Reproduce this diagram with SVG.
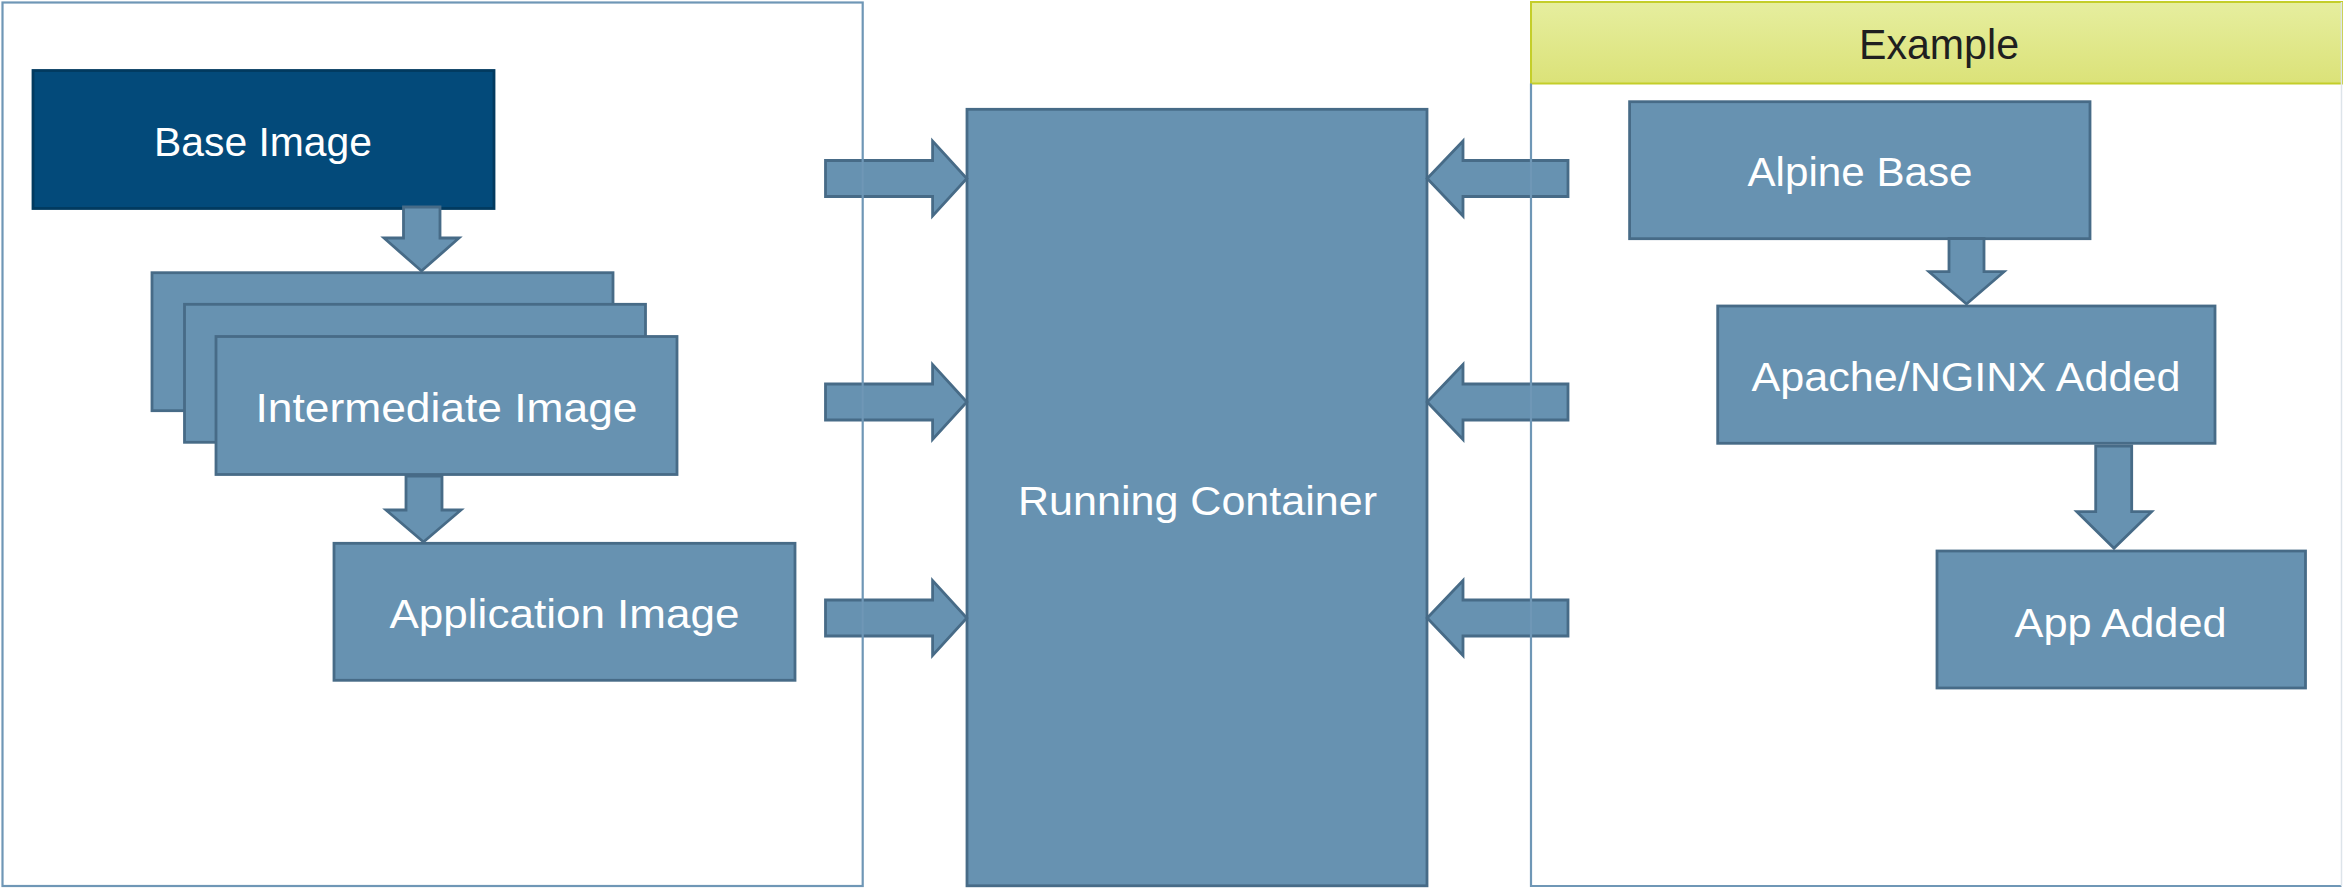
<svg xmlns="http://www.w3.org/2000/svg" width="2343" height="888" viewBox="0 0 2343 888">
  <defs>
    <linearGradient id="headerFill" x1="0" y1="0" x2="0" y2="1">
      <stop offset="0" stop-color="#e6ee9f"/>
      <stop offset="1" stop-color="#dbe278"/>
    </linearGradient>
    <style>
      .node { fill: #6792b1; stroke: #476b87; stroke-width: 2.8; }
      .node-dark { fill: #034a7a; stroke: #023a5f; stroke-width: 2.8; }
      .arrow { fill: #6792b1; stroke: #476b87; stroke-width: 2.8; stroke-linejoin: miter; }
      .frame { fill: none; stroke: #6f97b6; stroke-width: 2.2; }
      .label { font-family: "Liberation Sans", Arial, sans-serif; font-size: 41.5px; fill: #ffffff; text-anchor: middle; }
      .title { font-family: "Liberation Sans", Arial, sans-serif; font-size: 42px; fill: #1f1f1f; text-anchor: middle; }
    </style>
  </defs>

  <rect width="2343" height="888" fill="#ffffff"/>

  <!-- header band of the example panel -->
  <g id="example-header">
    <rect x="1531" y="2" width="812" height="81.5" fill="url(#headerFill)" stroke="#c4ce2a" stroke-width="2"/>
    <text class="title" x="1939" y="59.3" textLength="160" lengthAdjust="spacingAndGlyphs">Example</text>
  </g>

  <!-- image build chain -->
  <g id="base-image">
    <rect class="node-dark" x="33" y="70.5" width="461" height="138"/>
    <text class="label" x="263" y="155.7" textLength="218" lengthAdjust="spacingAndGlyphs">Base Image</text>
  </g>

  <g id="intermediate-image">
    <rect class="node" x="152" y="272.7" width="461" height="138"/>
    <rect class="node" x="184.5" y="304.3" width="461" height="138"/>
    <rect class="node" x="216" y="336.5" width="461" height="138"/>
    <text class="label" x="446.5" y="421.7" textLength="382" lengthAdjust="spacingAndGlyphs">Intermediate Image</text>
  </g>

  <g id="application-image">
    <rect class="node" x="334" y="543.3" width="461" height="137"/>
    <text class="label" x="564.5" y="627.7" textLength="350" lengthAdjust="spacingAndGlyphs">Application Image</text>
  </g>

  <g id="running-container">
    <rect class="node" x="967" y="109.3" width="460" height="776.5"/>
    <text class="label" x="1197.5" y="515" textLength="359" lengthAdjust="spacingAndGlyphs">Running Container</text>
  </g>

  <!-- example chain -->
  <g id="alpine-base">
    <rect class="node" x="1629.6" y="101.7" width="460.4" height="137"/>
    <text class="label" x="1860" y="185.7" textLength="225" lengthAdjust="spacingAndGlyphs">Alpine Base</text>
  </g>

  <g id="apache-nginx-added">
    <rect class="node" x="1717.7" y="306" width="497.3" height="137.3"/>
    <text class="label" x="1966" y="390.7" textLength="429" lengthAdjust="spacingAndGlyphs">Apache/NGINX Added</text>
  </g>

  <g id="app-added">
    <rect class="node" x="1937" y="551" width="368.5" height="137"/>
    <text class="label" x="2120.6" y="636.7" textLength="212" lengthAdjust="spacingAndGlyphs">App Added</text>
  </g>

  <!-- block arrows -->
  <g id="connectors">
    <!-- downward steps -->
    <polygon class="arrow" points="403.5,207 440,207 440,238 459,238 421.5,271 384,238 403.5,238"/>
    <polygon class="arrow" points="406,476 442,476 442,510 461,510 423.5,542 386,510 406,510"/>
    <polygon class="arrow" points="1949,238.7 1984,238.7 1984,271.7 2004,271.7 1966.5,304 1929,271.7 1949,271.7"/>
    <polygon class="arrow" points="2095.7,446 2131.7,446 2131.7,511.7 2151.6,511.7 2114,548.3 2076.8,511.7 2095.7,511.7"/>

    <!-- into the container from the left -->
    <polygon class="arrow" points="825.5,160.5 932.6,160.5 932.6,141 966.8,178.5 932.6,216 932.6,196.5 825.5,196.5"/>
    <polygon class="arrow" points="825.5,384 932.6,384 932.6,364.5 966.8,402 932.6,439.5 932.6,420 825.5,420"/>
    <polygon class="arrow" points="825.5,600 932.6,600 932.6,580.5 966.8,618 932.6,655.5 932.6,636 825.5,636"/>

    <!-- into the container from the right -->
    <polygon class="arrow" points="1568,160.5 1463,160.5 1463,141 1427.2,178.5 1463,216 1463,196.5 1568,196.5"/>
    <polygon class="arrow" points="1568,384 1463,384 1463,364.5 1427.2,402 1463,439.5 1463,420 1568,420"/>
    <polygon class="arrow" points="1568,600 1463,600 1463,580.5 1427.2,618 1463,655.5 1463,636 1568,636"/>
  </g>

  <!-- panel outlines -->
  <g id="panels">
    <rect class="frame" x="2.5" y="2.5" width="860.2" height="883.5"/>
    <path class="frame" d="M1531,83.5 V886 H2341.5"/>
    <path d="M2341.5,2 V886" fill="none" stroke="#dde4ea" stroke-width="1.5"/>
  </g>
</svg>
